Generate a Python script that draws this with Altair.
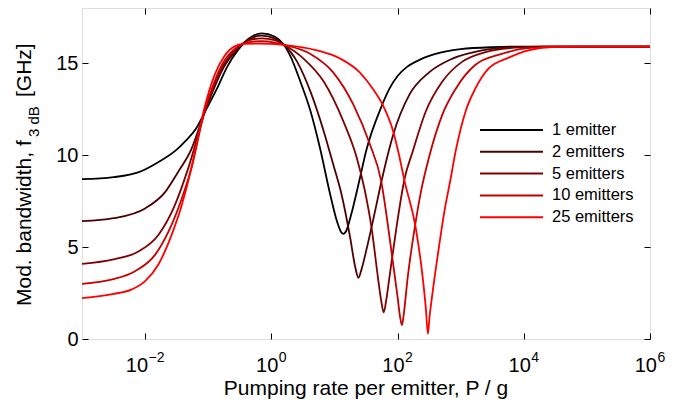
import altair as alt
import pandas as pd

# ---- data (x given as log10 of P/g) ----
LABELS = ["1 emitter", "2 emitters", "5 emitters", "10 emitters", "25 emitters"]
COLORS = ["#000000", "#4d0000", "#800000", "#c40000", "#ff0000"]

E1_LOGP = [-3, -2.5, -2.1, -1.8, -1.5, -1.35, -1.2, -1.03, -0.85, -0.7, -0.53, -0.35, -0.15, 0.05,
           0.2, 0.3, 0.46, 0.62, 0.77, 0.93, 1.04, 1.1, 1.14, 1.19, 1.26, 1.4, 1.5, 1.74, 1.87,
           2.0, 2.15, 2.3, 2.6, 3.0, 3.5, 4.0, 5.0, 6.0]
E1_F = [8.69, 8.8, 9.07, 9.6, 10.3, 10.8, 11.4, 12.5, 13.7, 14.8, 15.7, 16.35, 16.62, 16.45,
        16.0, 15.4, 14.0, 12.4, 10.4, 7.9, 6.4, 5.85, 5.72, 5.9, 6.7, 8.7, 10.2, 12.6, 13.6,
        14.3, 14.8, 15.1, 15.5, 15.76, 15.87, 15.9, 15.9, 15.9]

E2_LOGP = [-3, -2.5, -2.0, -1.68, -1.48, -1.27, -1.05, -0.9, -0.75, -0.55, -0.35, -0.15, 0.05, 0.2,
           0.41, 0.62, 0.83, 0.98, 1.11, 1.25, 1.33, 1.38, 1.43, 1.51, 1.64, 1.74, 1.93, 2.19, 2.5,
           2.87, 3.34, 3.86, 4.3, 6.0]
E2_F = [6.41, 6.57, 7.1, 8.0, 9.07, 10.3, 12.4, 13.7, 14.8, 15.7, 16.3, 16.5, 16.35, 16.0,
        15.07, 13.45, 11.3, 9.5, 7.9, 5.5, 3.9, 3.33, 3.8, 4.9, 6.9, 8.5, 11.1, 13.3, 14.5,
        15.25, 15.7, 15.87, 15.9, 15.9]

E5_LOGP = [-3, -2.5, -2.1, -1.79, -1.53, -1.32, -1.05, -0.9, -0.75, -0.55, -0.35, -0.15, 0.05, 0.2,
           0.51, 0.83, 1.14, 1.35, 1.48, 1.59, 1.69, 1.74, 1.78, 1.82, 1.87, 1.98, 2.11, 2.24, 2.45,
           2.71, 3.02, 3.39, 3.86, 4.4, 6.0]
E5_F = [4.09, 4.33, 4.77, 5.66, 7.27, 9.25, 12.4, 13.9, 14.95, 15.8, 16.25, 16.35, 16.25, 16.0,
        15.25, 14.0, 11.85, 9.9, 8.1, 6.0, 3.33, 2.1, 1.45, 2.1, 3.33, 6.0, 8.7, 10.2, 12.4,
        14.0, 15.07, 15.6, 15.84, 15.9, 15.9]

E10_LOGP = [-3, -2.52, -2.16, -1.84, -1.63, -1.42, -1.27, -1.05, -0.9, -0.75, -0.55, -0.35, -0.15,
            0.05, 0.2, 0.62, 0.98, 1.3, 1.56, 1.74, 1.89, 2.0, 2.04, 2.07, 2.1, 2.16, 2.27, 2.37,
            2.5, 2.71, 2.92, 3.23, 3.65, 4.02, 4.5, 6.0]
E10_F = [3.0, 3.24, 3.69, 4.59, 5.84, 7.63, 9.25, 12.5, 14.0, 15.1, 15.85, 16.15, 16.2,
         16.12, 16.0, 15.5, 14.5, 12.74, 10.6, 8.6, 5.1, 2.3, 1.2, 0.75, 1.4, 3.33, 6.0, 8.0,
         9.9, 12.2, 13.6, 14.9, 15.5, 15.8, 15.9, 15.9]

E25_LOGP = [-3, -2.52, -2.21, -2.0, -1.79, -1.58, -1.42, -1.27, -1.21, -1.06, -0.9, -0.74, -0.59,
            -0.43, -0.2, 0.2, 0.72, 1.09, 1.4, 1.61, 1.77, 1.93, 2.03, 2.11, 2.29, 2.4, 2.45, 2.48,
            2.51, 2.55, 2.66, 2.74, 2.84, 2.92, 3.08, 3.23, 3.44, 3.76, 4.07, 4.44, 5.0, 6.0]
E25_F = [2.22, 2.44, 2.7, 3.15, 4.05, 5.66, 7.27, 9.25, 10.2, 12.56, 14.35, 15.4, 15.9,
         16.05, 16.07, 16.0, 15.7, 15.25, 14.5, 13.6, 12.7, 11.3, 9.9, 8.6, 6.0, 3.3, 1.6, 0.28,
         1.3, 2.4, 5.1, 6.9, 8.7, 10.2, 12.4, 13.6, 14.7, 15.3, 15.7, 15.88, 15.9, 15.9]

X_TICKS = [1e-2, 1e0, 1e2, 1e4, 1e6]
X_EXPONENTS = ["\u22122", "0", "2", "4", "6"]
Y_TICKS = [0, 5, 10, 15]

FONT = "Liberation Sans"
W, H = 568, 331

series = [E1_LOGP, E2_LOGP, E5_LOGP, E10_LOGP, E25_LOGP]
values = [E1_F, E2_F, E5_F, E10_F, E25_F]
rows = []
for lab, lp, fv in zip(LABELS, series, values):
    for a, b in zip(lp, fv):
        rows.append({"series": lab, "P": 10.0 ** a, "f": b})
df = pd.DataFrame(rows)

xscale = alt.Scale(type="log", domain=[1e-3, 1e6], nice=False)
yscale = alt.Scale(domain=[0, 18], nice=False, zero=False)

common_axis = dict(grid=False, domain=False, tickColor="black", tickSize=6, offset=-6,
                   labelColor="black", labelFont=FONT, labelFontSize=20, tickWidth=1,
                   title=None)

x_bottom = alt.Axis(values=X_TICKS, orient="bottom", labels=False, **common_axis)
y_left = alt.Axis(values=Y_TICKS, orient="left", labelPadding=4, **common_axis)
x_top = alt.Axis(values=X_TICKS, orient="top", labels=False, **common_axis)
y_right = alt.Axis(values=Y_TICKS, orient="right", labels=False, **common_axis)

layers = []
for i, (lab, col) in enumerate(zip(LABELS, COLORS)):
    if i == 0:
        xe = alt.X("P:Q", scale=xscale, axis=x_bottom)
        ye = alt.Y("f:Q", scale=yscale, axis=y_left)
    else:
        xe = alt.X("P:Q", scale=xscale, axis=None)
        ye = alt.Y("f:Q", scale=yscale, axis=None)
    layers.append(
        alt.Chart(df).transform_filter(alt.datum.series == lab)
        .mark_line(color=col, strokeWidth=1.8, interpolate="monotone")
        .encode(x=xe, y=ye)
    )

# frame ticks on top and right
layers.append(
    alt.Chart(df).mark_point(opacity=0)
    .encode(x=alt.X("P:Q", scale=xscale, axis=x_top),
            y=alt.Y("f:Q", scale=yscale, axis=y_right))
)

# x tick labels: "10" with a raised exponent, centred as a whole on the tick
xt = pd.DataFrame({"P": X_TICKS, "exp": X_EXPONENTS})
for tick, ex in zip(X_TICKS, X_EXPONENTS):
    shift = 3 if len(ex) > 1 else 7
    one = alt.Chart(xt).transform_filter(alt.datum.P == tick)
    layers.append(one.mark_text(text="10", align="right", baseline="alphabetic", dx=shift,
                                font=FONT, fontSize=20, color="black")
                  .encode(x=alt.X("P:Q", scale=xscale, axis=None), y=alt.value(H + 33)))
    layers.append(one.mark_text(align="left", baseline="alphabetic", dx=shift + 0.5,
                                font=FONT, fontSize=14, color="black")
                  .encode(x=alt.X("P:Q", scale=xscale, axis=None), y=alt.value(H + 23),
                          text="exp:N"))

# in-plot legend
leg = pd.DataFrame({"series": LABELS, "color": COLORS, "idx": list(range(len(LABELS)))})
leg_base = alt.Chart(leg).transform_calculate(ly="122 + 21.8 * datum.idx")
layers.append(
    leg_base.mark_rule(strokeWidth=2).encode(
        y=alt.Y("ly:Q", scale=None, axis=None),
        x=alt.value(398), x2=alt.value(461),
        color=alt.Color("color:N", scale=None, legend=None))
)
layers.append(
    leg_base.mark_text(align="left", baseline="middle", font=FONT, fontSize=16.5, color="black")
    .encode(y=alt.Y("ly:Q", scale=None, axis=None), x=alt.value(470), text="series:N")
)


def label(t, x, y, size, angle=0, align="left"):
    mk = dict(align=align, baseline="alphabetic", font=FONT, fontSize=size, color="black")
    if angle:
        mk["angle"] = angle
    return alt.Chart(pd.DataFrame({"t": [t]})).mark_text(**mk).encode(
        text="t:N", x=alt.value(x), y=alt.value(y))


# y-axis title with subscript
layers.append(label("Mod. bandwidth, f", -51, 298, 21, angle=270))
layers.append(label("3 dB", -43, 129, 15, angle=270))
layers.append(label("[GHz]", -51, 89, 21, angle=270))
# x-axis title
layers.append(label("Pumping rate per emitter, P / g", W / 2, H + 56, 21, align="center"))

chart = alt.layer(*layers).resolve_axis(x="independent", y="independent").properties(
    width=W, height=H,
    autosize=alt.AutoSizeParams(type="none"),
    padding={"left": 74, "top": 0, "right": 17, "bottom": 60},
).configure_view(stroke="black", strokeWidth=1).configure(background="white")

chart.save("out.html", embed_options={"renderer": "svg", "actions": False})
